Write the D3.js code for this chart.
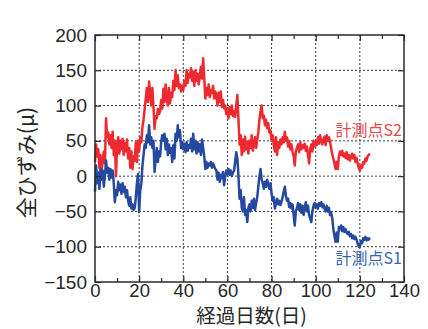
<!DOCTYPE html>
<html>
<head>
<meta charset="utf-8">
<script src="https://cdn.jsdelivr.net/npm/d3@7"></script>
<style>
  html, body { margin: 0; padding: 0; background: #fff; }
  svg { display: block; }
  text { font-family: "Liberation Sans", Arial, sans-serif; fill: #262626; }
  .jp { font-family: "Noto Sans CJK JP", sans-serif; }
</style>
</head>
<body>
<svg id="chart" width="428" height="329"></svg>
<script>
// Sampling interval of the strain record (days)
const sampleStep = 0.5;

// Total strain at measuring point S2 (μ), one value per half day
const strainS2 = [
  20, 45, 28, 38, 12, 30, 8, 22, 35, 18,
  82, 55, 62, 45, 58, 40, 63, 30, 50, 0,
  42, 55, 32, 50, 38, 53, 30, 47, 35, 52,
  25, 40, 12, 35, 10, 28, 22, 48, 20, 50,
  35, 55, 48, 70, 80, 95, 110, 125, 105, 134,
  118, 100, 125, 98, 67, 85, 82, 95, 88, 92,
  108, 96, 124, 105, 130, 110, 100, 125, 103, 118,
  112, 135, 122, 150, 128, 143, 125, 130, 120, 128,
  122, 135, 128, 150, 132, 145, 140, 153, 135, 148,
  128, 150, 135, 145, 130, 142, 155, 138, 167, 140,
  110, 125, 115, 130, 112, 122, 118, 128, 110, 120,
  115, 100, 118, 105, 120, 98, 108, 96, 100, 88,
  95, 82, 98, 88, 100, 85, 92, 84, 100, 115,
  80, 45, 58, 30, 52, 35, 56, 38, 48, 32,
  50, 40, 58, 36, 45, 55, 40, 52, 62, 80,
  92, 100, 82, 86, 72, 80, 68, 75, 62, 65,
  50, 58, 44, 35, 55, 30, 48, 40, 52, 45,
  55, 48, 63, 50, 55, 42, 50, 38, 45, 35,
  28, 15, 35, 40, 45, 34, 48, 38, 44, 40,
  46, 36, 42, 30, 18, 38, 45, 35, 50, 42,
  48, 44, 55, 46, 58, 50, 45, 52, 56, 44,
  58, 50, 55, 48, 40, 30, 25, 18, 10, 20,
  10, 28, 35, 30, 36, 28, 32, 26, 34, 24,
  30, 22, 28, 32, 25, 30, 20, 26, 18, 12,
  8, 15, 12, 20, 18, 25, 22, 28, 30, 32
];

// Total strain at measuring point S1 (μ), one value per half day
const strainS1 = [
  -22, 15, -10, 5, -18, 10, -5, 8, -15, 0,
  22, 5, 12, -5, 10, -2, 8, -10, -37, -20,
  -27, -8, -20, -12, -25, -10, -22, -15, -30, -20,
  -35, -42, -30, -46, -40, -48, -45, -30, -10, 3,
  -51, -20, -10, 15, 30, 45, 40, 58, 48, 72,
  45, 55, 40, 50, 6, 25, 40, 20, 35, 28,
  49, 58, 50, 60, 38, 53, 30, 45, 33, 40,
  20, 44, 25, 60, 50, 72, 55, 65, 40, 48,
  38, 46, 34, 48, 36, 44, 40, 53, 35, 60,
  38, 50, 32, 48, 35, 45, 30, 52, 40, 28,
  10, 20, 12, 18, 15, 20, 12, 18, 14, 10,
  8, -5, 5, -8, 2, -3, 6, -13, 0, 8,
  3, 10, 2, 8, 0, 5, 8, 20, 34, 25,
  0, -32, -20, -45, -50, -30, -55, -48, -65, -45,
  -40, -50, -35, -45, -32, -48, -38, -30, -15, 0,
  10, -4, -10, -18, -8, -15, -5, -12, -18, -10,
  -25, -35, -30, -46, -38, -32, -40, -35, -41, -36,
  -30, -22, -15, -28, -35, -32, -44, -38, -46, -40,
  -55, -70, -50, -45, -38, -48, -40, -52, -42, -55,
  -45, -37, -50, -42, -55, -60, -65, -50, -42, -38,
  -45, -40, -46, -38, -42, -37, -44, -40, -46, -50,
  -42, -50, -45, -55, -52, -60, -75, -85, -93, -80,
  -93, -72, -75, -70, -78, -72, -79, -75, -80, -82,
  -79, -85, -82, -88, -84, -89, -86, -90, -95, -100,
  -100, -92, -95, -88, -90, -86, -91, -88, -90, -87
];

const xTicks = [0, 20, 40, 60, 80, 100, 120, 140];
const xMinorTicks = [10, 30, 50, 70, 90, 110, 130];
const yTicks = [-150, -100, -50, 0, 50, 100, 150, 200];

const seriesNames = ["計測点S2", "計測点S1"];
const seriesColors = ["#ee2a31", "#2549a0"];
const labelColors = ["#e9464d", "#3c64ae"];

const svg = d3.select("#chart");
const plot = { left: 95, right: 404, top: 35, bottom: 282 };

const x = d3.scaleLinear().domain([0, 140]).range([plot.left, plot.right]);
const y = d3.scaleLinear().domain([-150, 200]).range([plot.bottom, plot.top]);

// Dotted grid
const grid = svg.append("g");
grid.selectAll("line.vx").data(xTicks.slice(1, -1)).join("line")
  .attr("x1", d => x(d)).attr("x2", d => x(d))
  .attr("y1", plot.top).attr("y2", plot.bottom)
  .attr("stroke", "#3a3a3a").attr("stroke-width", 1).attr("stroke-dasharray", "2,2");
grid.selectAll("line.hy").data(yTicks.slice(1, -1)).join("line")
  .attr("x1", plot.left).attr("x2", plot.right)
  .attr("y1", d => y(d)).attr("y2", d => y(d))
  .attr("stroke", "#3a3a3a").attr("stroke-width", 1).attr("stroke-dasharray", "2,2");

// Strain traces
const line = d3.line()
  .x((d, i) => x(i * sampleStep))
  .y(d => y(d));

[strainS2, strainS1].forEach((vals, k) => {
  svg.append("path")
    .datum(vals)
    .attr("d", line)
    .attr("fill", "none")
    .attr("stroke", seriesColors[k])
    .attr("stroke-width", 2.5)
    .attr("stroke-linejoin", "round");
});

// Axes with inward ticks on all four sides
const axisColor = "#2a2a2a";
const bottomAxis = svg.append("g").attr("transform", `translate(0,${plot.bottom})`)
  .call(d3.axisBottom(x).tickValues(xTicks).tickSize(-6).tickPadding(1.5).tickFormat(d3.format("d")));
const bottomMinor = svg.append("g").attr("transform", `translate(0,${plot.bottom})`)
  .call(d3.axisBottom(x).tickValues(xMinorTicks).tickSize(-4).tickFormat(""));
const topAxis = svg.append("g").attr("transform", `translate(0,${plot.top})`)
  .call(d3.axisTop(x).tickValues(xTicks).tickSize(-6).tickFormat(""));
const topMinor = svg.append("g").attr("transform", `translate(0,${plot.top})`)
  .call(d3.axisTop(x).tickValues(xMinorTicks).tickSize(-4).tickFormat(""));
const leftAxis = svg.append("g").attr("transform", `translate(${plot.left},0)`)
  .call(d3.axisLeft(y).tickValues(yTicks).tickSize(-6).tickPadding(8).tickFormat(d => d < 0 ? "\u2212" + Math.abs(d) : d));
const rightAxis = svg.append("g").attr("transform", `translate(${plot.right},0)`)
  .call(d3.axisRight(y).tickValues(yTicks).tickSize(-6).tickFormat(""));

[bottomAxis, bottomMinor, topAxis, topMinor, leftAxis, rightAxis].forEach(g => {
  g.select(".domain").remove();
  g.selectAll(".tick line").attr("stroke", axisColor).attr("stroke-width", 1.2);
  g.selectAll("text").attr("font-size", 19).attr("fill", "#262626")
    .attr("font-family", "'Liberation Sans', Arial, sans-serif");
});
bottomAxis.selectAll("text").attr("font-size", 18.5);

// Frame
svg.append("rect")
  .attr("x", plot.left).attr("y", plot.top)
  .attr("width", plot.right - plot.left).attr("height", plot.bottom - plot.top)
  .attr("fill", "none").attr("stroke", axisColor).attr("stroke-width", 1.5);

// Series labels
const labelPos = [{ v: 50, dy: -5 }, { v: -100, dy: 17 }];
seriesNames.forEach((name, k) => {
  svg.append("text")
    .attr("class", "jp")
    .attr("x", plot.right - 2)
    .attr("y", y(labelPos[k].v) + labelPos[k].dy)
    .attr("text-anchor", "end")
    .attr("font-size", 16)
    .style("fill", labelColors[k])
    .text(name);
});

// Axis titles
svg.append("text")
  .attr("class", "jp")
  .attr("x", (plot.left + plot.right) / 2 + 2)
  .attr("y", 323)
  .attr("text-anchor", "middle")
  .attr("font-size", 19.5)
  .text("経過日数(日)");

svg.append("text")
  .attr("class", "jp")
  .attr("transform", `translate(34,${(plot.top + plot.bottom) / 2 + 4}) rotate(-90)`)
  .attr("text-anchor", "middle")
  .attr("font-size", 21)
  .text("全ひずみ(μ)");
</script>
</body>
</html>
